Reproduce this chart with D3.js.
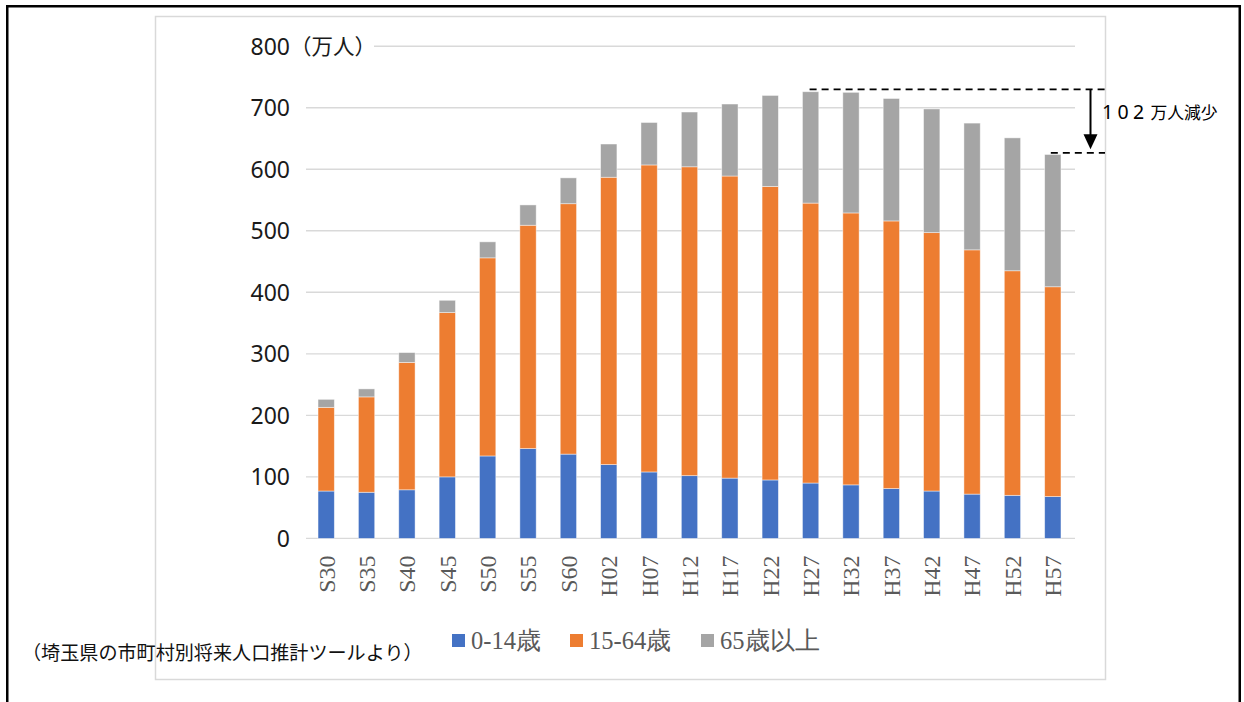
<!DOCTYPE html>
<html>
<head>
<meta charset="utf-8">
<script src="https://cdn.jsdelivr.net/npm/d3@7"></script>
<style>
  html, body { margin: 0; padding: 0; background: #fff; }
  svg { display: block; }
</style>
</head>
<body>
<svg id="chart" width="1244" height="702"></svg>
<script>
// 埼玉県の年齢3区分別人口の推移（万人）
const categories = ["S30","S35","S40","S45","S50","S55","S60","H02","H07","H12","H17","H22","H27","H32","H37","H42","H47","H52","H57"];
const age0to14  = [77, 75, 79, 100, 134, 146, 137, 120, 108, 102, 98, 95, 90, 87, 81, 77, 72, 70, 68];
const age15to64 = [136, 155, 207, 267, 322, 363, 407, 467, 499, 502, 491, 477, 455, 442, 435, 420, 397, 365, 341];
const age65plus = [13, 13, 16, 20, 26, 33, 42, 54, 69, 89, 117, 148, 181, 196, 199, 201, 206, 216, 215];
const seriesNames = ["0-14歳", "15-64歳", "65歳以上"];
const seriesColors = ["#4472C4", "#ED7D31", "#A5A5A5"];
const yTicks = [0, 100, 200, 300, 400, 500, 600, 700, 800];
const unitLabel = "（万人）";
const declineSuffix = "万人減少";
const sourceNote = "（埼玉県の市町村別将来人口推計ツールより）";

const svg = d3.select("#chart");
const W = 1244, H = 702;

svg.append("rect").attr("width", W).attr("height", H).attr("fill", "#fff");

// outer black frame (bottom edge runs off the page)
svg.append("rect")
  .attr("x", 7.25).attr("y", 6.25).attr("width", 1232.5).attr("height", 760)
  .attr("fill", "none").attr("stroke", "#000").attr("stroke-width", 2.5);

// chart area frame
svg.append("rect")
  .attr("x", 155.5).attr("y", 16.5).attr("width", 950).attr("height", 663)
  .attr("fill", "none").attr("stroke", "#d9d9d9").attr("stroke-width", 1.5);

const plot = { left: 306, right: 1073, top: 46.2, bottom: 538.4 };

const x = d3.scaleBand()
  .domain(categories)
  .range([plot.left, plot.right])
  .paddingInner(0.596)
  .paddingOuter(0.298);

const y = d3.scaleLinear().domain([0, 800]).range([plot.bottom, plot.top]);

// gridlines
svg.append("g")
  .selectAll("line")
  .data(yTicks)
  .join("line")
  .attr("x1", plot.left).attr("x2", plot.right + 2)
  .attr("y1", d => y(d)).attr("y2", d => y(d))
  .attr("stroke", "#d9d9d9").attr("stroke-width", 1.4);

// y tick labels via d3 axis
const yAxis = svg.append("g")
  .attr("transform", `translate(${plot.left},0)`)
  .call(d3.axisLeft(y).tickValues(yTicks).tickSize(0).tickPadding(16).tickFormat(d3.format("d")));
yAxis.select(".domain").remove();
yAxis.selectAll("text")
  .attr("font-family", "'Noto Sans', 'Open Sans', sans-serif")
  .attr("font-size", 23)
  .attr("fill", "#1a1a1a")
  .attr("dy", "0.35em");

// unit label next to the top tick
svg.append("rect")
  .attr("x", 300).attr("y", y(800) - 14).attr("width", 74).attr("height", 28)
  .attr("fill", "#fff");
svg.append("text")
  .attr("x", 290).attr("y", y(800))
  .attr("dy", "0.36em")
  .attr("font-family", "'Noto Sans CJK JP', sans-serif")
  .attr("font-size", 21.5)
  .attr("fill", "#1a1a1a")
  .text(unitLabel);

// stacked bars
const rows = categories.map((c, i) => ({
  cat: c, a: age0to14[i], b: age15to64[i], c65: age65plus[i]
}));
const stack = d3.stack().keys(["a", "b", "c65"]);
const stacked = stack(rows);

svg.append("g")
  .selectAll("g")
  .data(stacked)
  .join("g")
  .attr("fill", (d, i) => seriesColors[i])
  .selectAll("rect")
  .data(d => d)
  .join("rect")
  .attr("x", d => x(d.data.cat))
  .attr("width", x.bandwidth())
  .attr("y", d => y(d[1]))
  .attr("height", d => y(d[0]) - y(d[1]))
  .attr("stroke", "#fff").attr("stroke-width", 0.8).attr("stroke-opacity", 0.55);

// x category labels, rotated
const xAxis = svg.append("g")
  .attr("transform", `translate(0,${plot.bottom})`)
  .call(d3.axisBottom(x).tickSize(0).tickPadding(0));
xAxis.select(".domain").remove();
xAxis.selectAll(".tick").attr("transform", null);
xAxis.selectAll("text")
  .attr("font-family", "'Liberation Serif', 'Times New Roman', serif")
  .attr("font-size", 24)
  .attr("fill", "#595959")
  .attr("text-anchor", "end")
  .attr("transform", d => `translate(${x(d) + x.bandwidth() / 2},17) rotate(-90)`)
  .attr("x", 0).attr("y", 0)
  .attr("dy", "0.35em");

// decline annotation: peak total vs final total
const totals = categories.map((c, i) => age0to14[i] + age15to64[i] + age65plus[i]);
const peakIdx = totals.indexOf(d3.max(totals));
const lastIdx = totals.length - 1;
const decline = totals[peakIdx] - totals[lastIdx];

const annRight = 1105;
const yPeak = y(totals[peakIdx]) - 2.3;
const yLast = y(totals[lastIdx]) - 1.7;
const ann = svg.append("g");
ann.append("line")
  .attr("x1", x(categories[peakIdx]) + x.bandwidth() / 2 - 1).attr("x2", annRight)
  .attr("y1", yPeak).attr("y2", yPeak)
  .attr("stroke", "#000").attr("stroke-width", 1.8).attr("stroke-dasharray", "7,5");
ann.append("line")
  .attr("x1", x(categories[lastIdx]) + x.bandwidth() / 2 - 2).attr("x2", annRight)
  .attr("y1", yLast).attr("y2", yLast)
  .attr("stroke", "#000").attr("stroke-width", 1.8).attr("stroke-dasharray", "7,5");

const arrowX = 1090.5;
const tipY = yLast - 3.5;
ann.append("line")
  .attr("x1", arrowX).attr("x2", arrowX)
  .attr("y1", yPeak).attr("y2", tipY - 12)
  .attr("stroke", "#000").attr("stroke-width", 2);
ann.append("path")
  .attr("d", d3.line()([[arrowX - 7, tipY - 15], [arrowX + 7, tipY - 15], [arrowX, tipY]]) + "Z")
  .attr("fill", "#000");

const annText = ann.append("text")
  .attr("x", 1102).attr("y", (yPeak + yLast) / 2 - 7.5)
  .attr("dy", "0.36em")
  .attr("fill", "#000");
annText.append("tspan")
  .attr("font-family", "'Noto Sans', 'DejaVu Sans', sans-serif")
  .attr("font-size", 19.5)
  .attr("letter-spacing", 4.3)
  .text(String(decline));
annText.append("tspan")
  .attr("dx", 2)
  .attr("font-family", "'Noto Sans CJK JP', sans-serif")
  .attr("font-size", 16.8)
  .text(declineSuffix);

// legend
const legendItems = [
  { name: seriesNames[0], color: seriesColors[0], x: 452 },
  { name: seriesNames[1], color: seriesColors[1], x: 570 },
  { name: seriesNames[2], color: seriesColors[2], x: 701 }
];
const legend = svg.append("g");
const li = legend.selectAll("g").data(legendItems).join("g")
  .attr("transform", d => `translate(${d.x},634)`);
li.append("rect").attr("width", 13).attr("height", 13).attr("fill", d => d.color);
li.append("text")
  .attr("x", 19).attr("y", 15.3)
  .attr("font-family", "'Liberation Serif', 'Times New Roman', serif")
  .attr("font-size", 24.5)
  .attr("fill", "#595959")
  .text(d => d.name);

// source note
svg.append("text")
  .attr("x", 22).attr("y", 653)
  .attr("dy", "0.36em")
  .attr("font-family", "'Noto Sans CJK JP', sans-serif")
  .attr("font-size", 19.1)
  .attr("fill", "#111")
  .text(sourceNote);
</script>
</body>
</html>
